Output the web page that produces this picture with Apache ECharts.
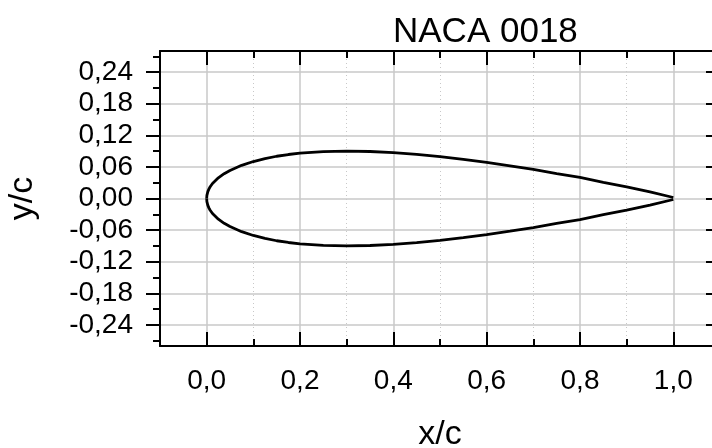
<!DOCTYPE html>
<html>
<head>
<meta charset="utf-8">
<script src="https://cdn.jsdelivr.net/npm/echarts@6/dist/echarts.min.js"></script>
<style>
html,body{margin:0;padding:0;background:#fff;overflow:hidden;width:712px;height:448px;}
#chart{width:740px;height:448px;}
</style>
</head>
<body>
<div id="chart"></div>
<script>
// Chord positions (x/c) and surface ordinates (y/c)
var xc     = [0, 0.0005, 0.001, 0.0025, 0.005, 0.0075, 0.0125, 0.025, 0.0375, 0.05, 0.075, 0.1, 0.125, 0.15, 0.175, 0.2, 0.25, 0.3, 0.35, 0.4, 0.45, 0.5, 0.55, 0.6, 0.65, 0.7, 0.75, 0.8, 0.85, 0.9, 0.95, 1.0];
var yUpper = [0, 0.0059, 0.0083, 0.0131, 0.0183, 0.0223, 0.0284, 0.0392, 0.0471, 0.0533, 0.0630, 0.0702, 0.0758, 0.0802, 0.0835, 0.0861, 0.0891, 0.0900, 0.0892, 0.0871, 0.0837, 0.0794, 0.0743, 0.0685, 0.0620, 0.0551, 0.0474, 0.0399, 0.0308, 0.0222, 0.0124, 0.0019];
var yLower = [0, -0.0059, -0.0083, -0.0131, -0.0183, -0.0223, -0.0284, -0.0392, -0.0471, -0.0533, -0.0630, -0.0702, -0.0758, -0.0802, -0.0835, -0.0861, -0.0891, -0.0900, -0.0892, -0.0871, -0.0837, -0.0794, -0.0743, -0.0685, -0.0620, -0.0551, -0.0474, -0.0399, -0.0308, -0.0222, -0.0124, -0.0019];

var xMajorTicks = [0.0, 0.2, 0.4, 0.6, 0.8, 1.0];
var xMinorTicks = [0.1, 0.3, 0.5, 0.7, 0.9];
var yMajorTicks = [-0.24, -0.18, -0.12, -0.06, 0.00, 0.06, 0.12, 0.18, 0.24];
var yMinorTicks = [-0.27, -0.21, -0.15, -0.09, -0.03, 0.03, 0.09, 0.15, 0.21, 0.27];

var FONT = 'Liberation Sans, Arial, sans-serif';
var BLACK = '#000';
var GRID = '#c8c8c8';

function xAx(opts) {
  var base = {
    type: 'value', min: -0.1, max: 1.1, gridIndex: 0,
    axisLine: {show: false, onZero: false, lineStyle: {color: BLACK, width: 2}},
    axisTick: {show: false},
    axisLabel: {show: false},
    splitLine: {show: false}
  };
  return Object.assign(base, opts);
}
function yAx(opts) {
  var base = {
    type: 'value', min: -0.28, max: 0.28, gridIndex: 0,
    axisLine: {show: false, onZero: false, lineStyle: {color: BLACK, width: 2}},
    axisTick: {show: false},
    axisLabel: {show: false},
    splitLine: {show: false}
  };
  return Object.assign(base, opts);
}

var chart = echarts.init(document.getElementById('chart'), null, {renderer: 'canvas'});
chart.setOption({
  animation: false,
  backgroundColor: '#fff',
  title: {
    text: 'NACA 0018', left: 388, top: 10,
    textStyle: {fontFamily: FONT, fontSize: 35, fontWeight: 'normal', color: BLACK}
  },
  grid: {left: 160, top: 51, width: 560, height: 295, containLabel: false, outerBoundsMode: 'none'},
  xAxis: [
    xAx({
      position: 'bottom',
      name: 'x/c', nameLocation: 'middle', nameGap: 72,
      nameTextStyle: {fontFamily: FONT, fontSize: 34, color: BLACK},
      axisLine: {show: true, onZero: false, lineStyle: {color: BLACK, width: 2}},
      axisTick: {show: true, inside: true, length: 14, customValues: xMajorTicks, lineStyle: {color: BLACK, width: 2}},
      axisLabel: {show: true, customValues: xMajorTicks, margin: 21, fontFamily: FONT, fontSize: 28, color: BLACK,
        formatter: function (v) { return v.toFixed(1).replace('.', ','); }},
      splitLine: {show: true, lineStyle: {color: GRID, width: 1.5, type: 'solid'}}
    }),
    xAx({
      position: 'bottom',
      axisTick: {show: true, inside: true, length: 7, customValues: xMinorTicks, lineStyle: {color: BLACK, width: 2}},
      splitLine: {show: true, lineStyle: {color: GRID, width: 1, type: [1, 3]}}
    }),
    xAx({
      position: 'top',
      axisLine: {show: true, onZero: false, lineStyle: {color: BLACK, width: 2}},
      axisTick: {show: true, inside: true, length: 14, customValues: xMajorTicks, lineStyle: {color: BLACK, width: 2}}
    }),
    xAx({
      position: 'top',
      axisTick: {show: true, inside: true, length: 7, customValues: xMinorTicks, lineStyle: {color: BLACK, width: 2}}
    })
  ],
  yAxis: [
    yAx({
      position: 'left',
      name: 'y/c', nameLocation: 'middle', nameGap: 120,
      nameTextStyle: {fontFamily: FONT, fontSize: 34, color: BLACK},
      axisLine: {show: true, onZero: false, lineStyle: {color: BLACK, width: 2}},
      axisTick: {show: true, inside: false, length: 14, customValues: yMajorTicks, lineStyle: {color: BLACK, width: 2}},
      axisLabel: {show: true, customValues: yMajorTicks, margin: 27, fontFamily: FONT, fontSize: 28, color: BLACK,
        formatter: function (v) { return v.toFixed(2).replace('.', ','); }},
      splitLine: {show: true, lineStyle: {color: GRID, width: 1.5, type: 'solid'}}
    }),
    yAx({
      position: 'left',
      axisTick: {show: true, inside: false, length: 7, customValues: yMinorTicks, lineStyle: {color: BLACK, width: 2}}
    }),
    yAx({
      position: 'right',
      axisLine: {show: true, onZero: false, lineStyle: {color: BLACK, width: 2}},
      axisTick: {show: true, inside: true, length: 14, customValues: yMajorTicks, lineStyle: {color: BLACK, width: 2}}
    }),
    yAx({
      position: 'right',
      axisTick: {show: true, inside: true, length: 7, customValues: yMinorTicks, lineStyle: {color: BLACK, width: 2}}
    })
  ],
  series: [
    {
      name: 'Upper surface', type: 'line', xAxisIndex: 0, yAxisIndex: 0,
      data: xc.map(function (x, i) { return [x, yUpper[i]]; }),
      showSymbol: false, symbol: 'none', smooth: false,
      lineStyle: {color: BLACK, width: 2.8}, z: 5
    },
    {
      name: 'Lower surface', type: 'line', xAxisIndex: 0, yAxisIndex: 0,
      data: xc.map(function (x, i) { return [x, yLower[i]]; }),
      showSymbol: false, symbol: 'none', smooth: false,
      lineStyle: {color: BLACK, width: 2.8}, z: 5
    }
  ]
});
</script>
</body>
</html>
